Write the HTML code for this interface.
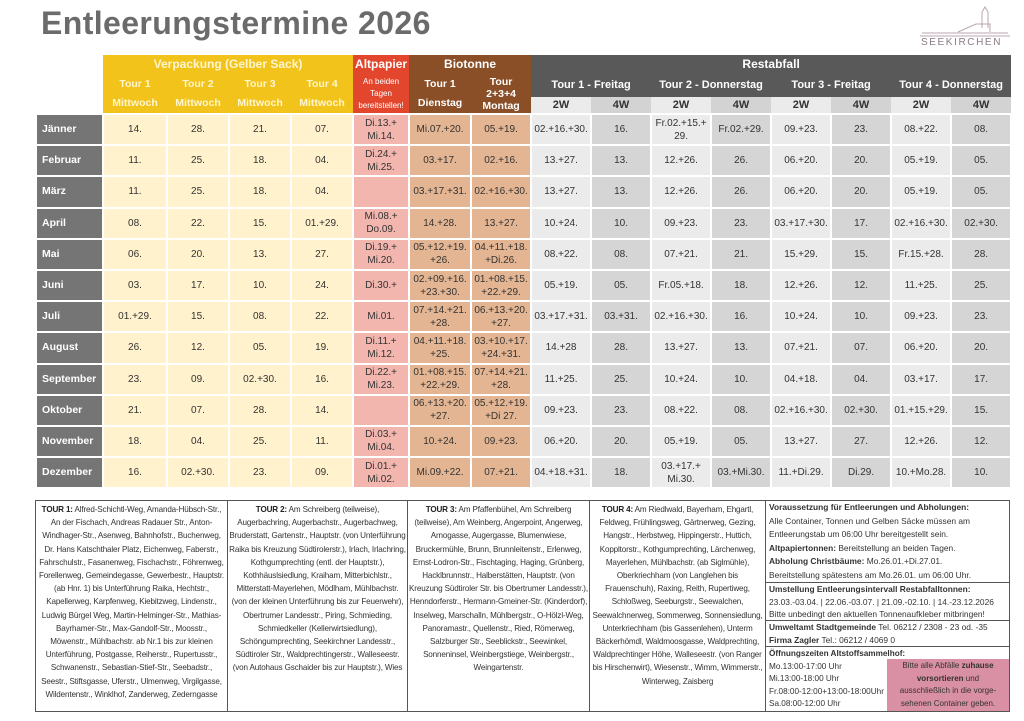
<!DOCTYPE html>
<html><head><meta charset="utf-8"><style>
*{margin:0;padding:0;box-sizing:border-box}
body{width:1024px;height:721px;background:#fff;font-family:"Liberation Sans",sans-serif;position:relative;overflow:hidden}
.title{position:absolute;left:41px;top:5px;font-size:32px;font-weight:bold;color:#6b6b6b;letter-spacing:0.4px}
table.m{position:absolute;left:35px;top:55px;border-collapse:collapse;table-layout:fixed;width:975px}
table.m td{text-align:center;vertical-align:middle;font-size:10px;color:#333;line-height:13px;white-space:nowrap;overflow:hidden}
table.m tr.h td{font-weight:bold;color:#fff}
table.m tr.h td.y{background:#f2c31a;color:#fff6cf}
table.m tr.h td.r{background:#e2472e;color:#fff}
table.m tr.h td.b{background:#8a4f27;color:#fff}
table.m tr.h td.g{background:#595959;color:#fff}
table.m tr.h td.w2{background:#ebebeb;color:#333;font-size:11px}
table.m tr.h td.w4{background:#d3d3d3;color:#333;font-size:11px}
tr.d td{border:2px solid #fff;height:31.2px}
table.m tr.d td.mo{background:#757575;color:#fff;font-weight:bold;text-align:left;padding-left:5px;font-size:10.5px}
tr.d td.t{background:#fff2cc}
tr.d td.a{background:#f2b6ae}
tr.d td.bi{background:#e4b592}
tr.d td.l{background:#ebebeb}
tr.d td.k{background:#d5d5d5}
.box{position:absolute;top:500px;border:1px solid #555;font-size:8.1px;line-height:13.2px;color:#333;text-align:center;padding:2px 1px;letter-spacing:-0.15px;overflow:hidden}
.box b{color:#222}
.rb{position:absolute;left:765px;width:245px;border:1px solid #555;font-size:8.4px;color:#333;padding:0 3px;white-space:nowrap;overflow:hidden}
</style></head><body>
<div class="title">Entleerungstermine 2026</div>
<svg style="position:absolute;left:918px;top:4px" width="96" height="46" viewBox="0 0 96 46">
<g fill="none" stroke="#b9a4b1" stroke-width="1">
<path d="M40 28 L58 20 L72 20 L72 28"/><path d="M64 24 L64 8 L67 3 L70 8 L70 24"/><path d="M4 29 L90 29"/><path d="M2 32 L92 32"/></g>
<text x="3" y="41" font-family="Liberation Sans" font-size="10" fill="#8a7a86" letter-spacing="1.6">SEEKIRCHEN</text>
</svg>
<table class="m">
<colgroup><col style="width:67px"><col style="width:64px"><col style="width:62px"><col style="width:62px"><col style="width:62px"><col style="width:56px"><col style="width:62px"><col style="width:60px"><col style="width:60px"><col style="width:60px"><col style="width:60px"><col style="width:60px"><col style="width:60px"><col style="width:60px"><col style="width:60px"><col style="width:60px"></colgroup>
<tr class="h" style="height:19px"><td rowspan="3"></td><td colspan="4" class="y" style="font-size:12px">Verpackung (Gelber Sack)</td><td class="r" style="font-size:12px">Altpapier</td><td colspan="2" class="b" style="font-size:12px">Biotonne</td><td colspan="8" class="g" style="font-size:12px">Restabfall</td></tr>
<tr class="h" style="height:23px"><td rowspan="2" class="y" style="font-size:10.5px;line-height:19px">Tour 1<br>Mittwoch</td><td rowspan="2" class="y" style="font-size:10.5px;line-height:19px">Tour 2<br>Mittwoch</td><td rowspan="2" class="y" style="font-size:10.5px;line-height:19px">Tour 3<br>Mittwoch</td><td rowspan="2" class="y" style="font-size:10.5px;line-height:19px">Tour 4<br>Mittwoch</td><td rowspan="2" class="r" style="font-weight:normal;font-size:8px;line-height:12px">An beiden<br>Tagen<br>bereitstellen!</td><td rowspan="2" class="b" style="font-size:10.5px;line-height:19px">Tour 1<br>Dienstag</td><td rowspan="2" class="b" style="font-size:10.5px;line-height:12px">Tour<br>2+3+4<br>Montag</td><td colspan="2" class="g" style="font-size:11px">Tour 1 - Freitag</td><td colspan="2" class="g" style="font-size:11px">Tour 2 - Donnerstag</td><td colspan="2" class="g" style="font-size:11px">Tour 3 - Freitag</td><td colspan="2" class="g" style="font-size:11px">Tour 4 - Donnerstag</td></tr>
<tr class="h" style="height:17px"><td class="w2">2W</td><td class="w4">4W</td><td class="w2">2W</td><td class="w4">4W</td><td class="w2">2W</td><td class="w4">4W</td><td class="w2">2W</td><td class="w4">4W</td></tr>
<tr class="d"><td class="mo">Jänner</td><td class="t">14.</td><td class="t">28.</td><td class="t">21.</td><td class="t">07.</td><td class="a">Di.13.+<br>Mi.14.</td><td class="bi">Mi.07.+20.</td><td class="bi">05.+19.</td><td class="l">02.+16.+30.</td><td class="k">16.</td><td class="l">Fr.02.+15.+<br>29.</td><td class="k">Fr.02.+29.</td><td class="l">09.+23.</td><td class="k">23.</td><td class="l">08.+22.</td><td class="k">08.</td></tr>
<tr class="d"><td class="mo">Februar</td><td class="t">11.</td><td class="t">25.</td><td class="t">18.</td><td class="t">04.</td><td class="a">Di.24.+<br>Mi.25.</td><td class="bi">03.+17.</td><td class="bi">02.+16.</td><td class="l">13.+27.</td><td class="k">13.</td><td class="l">12.+26.</td><td class="k">26.</td><td class="l">06.+20.</td><td class="k">20.</td><td class="l">05.+19.</td><td class="k">05.</td></tr>
<tr class="d"><td class="mo">März</td><td class="t">11.</td><td class="t">25.</td><td class="t">18.</td><td class="t">04.</td><td class="a"></td><td class="bi">03.+17.+31.</td><td class="bi">02.+16.+30.</td><td class="l">13.+27.</td><td class="k">13.</td><td class="l">12.+26.</td><td class="k">26.</td><td class="l">06.+20.</td><td class="k">20.</td><td class="l">05.+19.</td><td class="k">05.</td></tr>
<tr class="d"><td class="mo">April</td><td class="t">08.</td><td class="t">22.</td><td class="t">15.</td><td class="t">01.+29.</td><td class="a">Mi.08.+<br>Do.09.</td><td class="bi">14.+28.</td><td class="bi">13.+27.</td><td class="l">10.+24.</td><td class="k">10.</td><td class="l">09.+23.</td><td class="k">23.</td><td class="l">03.+17.+30.</td><td class="k">17.</td><td class="l">02.+16.+30.</td><td class="k">02.+30.</td></tr>
<tr class="d"><td class="mo">Mai</td><td class="t">06.</td><td class="t">20.</td><td class="t">13.</td><td class="t">27.</td><td class="a">Di.19.+<br>Mi.20.</td><td class="bi">05.+12.+19.<br>+26.</td><td class="bi">04.+11.+18.<br>+Di.26.</td><td class="l">08.+22.</td><td class="k">08.</td><td class="l">07.+21.</td><td class="k">21.</td><td class="l">15.+29.</td><td class="k">15.</td><td class="l">Fr.15.+28.</td><td class="k">28.</td></tr>
<tr class="d"><td class="mo">Juni</td><td class="t">03.</td><td class="t">17.</td><td class="t">10.</td><td class="t">24.</td><td class="a">Di.30.+</td><td class="bi">02.+09.+16.<br>+23.+30.</td><td class="bi">01.+08.+15.<br>+22.+29.</td><td class="l">05.+19.</td><td class="k">05.</td><td class="l">Fr.05.+18.</td><td class="k">18.</td><td class="l">12.+26.</td><td class="k">12.</td><td class="l">11.+25.</td><td class="k">25.</td></tr>
<tr class="d"><td class="mo">Juli</td><td class="t">01.+29.</td><td class="t">15.</td><td class="t">08.</td><td class="t">22.</td><td class="a">Mi.01.</td><td class="bi">07.+14.+21.<br>+28.</td><td class="bi">06.+13.+20.<br>+27.</td><td class="l">03.+17.+31.</td><td class="k">03.+31.</td><td class="l">02.+16.+30.</td><td class="k">16.</td><td class="l">10.+24.</td><td class="k">10.</td><td class="l">09.+23.</td><td class="k">23.</td></tr>
<tr class="d"><td class="mo">August</td><td class="t">26.</td><td class="t">12.</td><td class="t">05.</td><td class="t">19.</td><td class="a">Di.11.+<br>Mi.12.</td><td class="bi">04.+11.+18.<br>+25.</td><td class="bi">03.+10.+17.<br>+24.+31.</td><td class="l">14.+28</td><td class="k">28.</td><td class="l">13.+27.</td><td class="k">13.</td><td class="l">07.+21.</td><td class="k">07.</td><td class="l">06.+20.</td><td class="k">20.</td></tr>
<tr class="d"><td class="mo">September</td><td class="t">23.</td><td class="t">09.</td><td class="t">02.+30.</td><td class="t">16.</td><td class="a">Di.22.+<br>Mi.23.</td><td class="bi">01.+08.+15.<br>+22.+29.</td><td class="bi">07.+14.+21.<br>+28.</td><td class="l">11.+25.</td><td class="k">25.</td><td class="l">10.+24.</td><td class="k">10.</td><td class="l">04.+18.</td><td class="k">04.</td><td class="l">03.+17.</td><td class="k">17.</td></tr>
<tr class="d"><td class="mo">Oktober</td><td class="t">21.</td><td class="t">07.</td><td class="t">28.</td><td class="t">14.</td><td class="a"></td><td class="bi">06.+13.+20.<br>+27.</td><td class="bi">05.+12.+19.<br>+Di 27.</td><td class="l">09.+23.</td><td class="k">23.</td><td class="l">08.+22.</td><td class="k">08.</td><td class="l">02.+16.+30.</td><td class="k">02.+30.</td><td class="l">01.+15.+29.</td><td class="k">15.</td></tr>
<tr class="d"><td class="mo">November</td><td class="t">18.</td><td class="t">04.</td><td class="t">25.</td><td class="t">11.</td><td class="a">Di.03.+<br>Mi.04.</td><td class="bi">10.+24.</td><td class="bi">09.+23.</td><td class="l">06.+20.</td><td class="k">20.</td><td class="l">05.+19.</td><td class="k">05.</td><td class="l">13.+27.</td><td class="k">27.</td><td class="l">12.+26.</td><td class="k">12.</td></tr>
<tr class="d"><td class="mo">Dezember</td><td class="t">16.</td><td class="t">02.+30.</td><td class="t">23.</td><td class="t">09.</td><td class="a">Di.01.+<br>Mi.02.</td><td class="bi">Mi.09.+22.</td><td class="bi">07.+21.</td><td class="l">04.+18.+31.</td><td class="k">18.</td><td class="l">03.+17.+<br>Mi.30.</td><td class="k">03.+Mi.30.</td><td class="l">11.+Di.29.</td><td class="k">Di.29.</td><td class="l">10.+Mo.28.</td><td class="k">10.</td></tr>
</table>

<div class="box" style="left:35px;width:193px;height:212px"><b>TOUR 1:</b> Alfred-Schichtl-Weg, Amanda-Hübsch-Str., An der Fischach, Andreas Radauer Str., Anton-Windhager-Str., Asenweg, Bahnhofstr., Buchenweg, Dr. Hans Katschthaler Platz, Eichenweg, Faberstr., Fahrschulstr., Fasanenweg, Fischachstr., Föhrenweg, Forellenweg, Gemeindegasse, Gewerbestr., Hauptstr. (ab Hnr. 1) bis Unterführung Raika, Hechtstr., Kapellerweg, Karpfenweg, Kiebitzweg, Lindenstr., Ludwig Bürgel Weg, Martin-Helminger-Str., Mathias-Bayrhamer-Str., Max-Gandolf-Str., Moosstr., Möwenstr., Mühlbachstr. ab Nr.1 bis zur kleinen Unterführung, Postgasse, Reiherstr., Rupertusstr., Schwanenstr., Sebastian-Stief-Str., Seebadstr., Seestr., Stiftsgasse, Uferstr., Ulmenweg, Virgilgasse, Wildentenstr., Winklhof, Zanderweg, Zederngasse</div>
<div class="box" style="left:227px;width:181px;height:212px"><b>TOUR 2:</b> Am Schreiberg (teilweise), Augerbachring, Augerbachstr., Augerbachweg, Bruderstatt, Gartenstr., Hauptstr. (von Unterführung Raika bis Kreuzung Südtirolerstr.), Irlach, Irlachring, Kothgumprechting (entl. der Hauptstr.), Kothhäuslsiedlung, Kraiham, Mitterbichlstr., Mitterstatt-Mayerlehen, Mödlham, Mühlbachstr. (von der kleinen Unterführung bis zur Feuerwehr), Obertrumer Landesstr., Piring, Schmieding, Schmiedkeller (Kellerwirtsiedlung), Schöngumprechting, Seekirchner Landesstr., Südtiroler Str., Waldprechtingerstr., Walleseestr. (von Autohaus Gschaider bis zur Hauptstr.), Wies</div>
<div class="box" style="left:407px;width:183px;height:212px"><b>TOUR 3:</b> Am Pfaffenbühel, Am Schreiberg (teilweise), Am Weinberg, Angerpoint, Angerweg, Arnogasse, Augergasse, Blumenwiese, Bruckermühle, Brunn, Brunnleitenstr., Erlenweg, Ernst-Lodron-Str., Fischtaging, Haging, Grünberg, Hacklbrunnstr., Halberstätten, Hauptstr. (von Kreuzung Südtiroler Str. bis Obertrumer Landesstr.), Henndorferstr., Hermann-Gmeiner-Str. (Kinderdorf), Inselweg, Marschalln, Mühlbergstr., O-Hölzl-Weg, Panoramastr., Quellenstr., Ried, Römerweg, Salzburger Str., Seeblickstr., Seewinkel, Sonneninsel, Weinbergstiege, Weinbergstr., Weingartenstr.</div>
<div class="box" style="left:589px;width:177px;height:212px"><b>TOUR 4:</b> Am Riedlwald, Bayerham, Ehgartl, Feldweg, Frühlingsweg, Gärtnerweg, Gezing, Hangstr., Herbstweg, Hippingerstr., Huttich, Koppltorstr., Kothgumprechting, Lärchenweg, Mayerlehen, Mühlbachstr. (ab Siglmühle), Oberkriechham (von Langlehen bis Frauenschuh), Raxing, Reith, Rupertiweg, Schloßweg, Seeburgstr., Seewalchen, Seewalchnerweg, Sommerweg, Sonnensiedlung, Unterkriechham (bis Gassenlehen), Unterm Bäckerhömdl, Waldmoosgasse, Waldprechting, Waldprechtinger Höhe, Walleseestr. (von Ranger bis Hirschenwirt), Wiesenstr., Wimm, Wimmerstr., Winterweg, Zaisberg</div>
<div class="rb" style="top:500px;height:83px;line-height:13.5px"><b>Voraussetzung für Entleerungen und Abholungen:</b><br>Alle Container, Tonnen und Gelben Säcke müssen am<br>Entleerungstab um 06:00 Uhr bereitgestellt sein.<br><b>Altpapiertonnen:</b> Bereitstellung an beiden Tagen.<br><b>Abholung Christbäume:</b> Mo.26.01.+Di.27.01.<br>Bereitstellung spätestens am Mo.26.01. um 06:00 Uhr.</div>
<div class="rb" style="top:582px;height:39px;line-height:12.6px"><b>Umstellung Entleerungsintervall Restabfalltonnen:</b><br>23.03.-03.04. | 22.06.-03.07. | 21.09.-02.10. | 14.-23.12.2026<br>Bitte unbedingt den aktuellen Tonnenaufkleber mitbringen!</div>
<div class="rb" style="top:620px;height:27px;line-height:12.8px"><b>Umweltamt Stadtgemeinde</b> Tel. 06212 / 2308 - 23 od. -35<br><b>Firma Zagler</b> Tel.: 06212 / 4069 0</div>
<div class="rb" style="top:646px;height:66px;line-height:12.6px;padding-top:1px;font-size:8.2px"><b>Öffnungszeiten Altstoffsammelhof:</b><br>Mo.13:00-17:00 Uhr<br>Mi.13:00-18:00 Uhr<br>Fr.08:00-12:00+13:00-18:00Uhr<br>Sa.08:00-12:00 Uhr</div>
<div style="position:absolute;left:887px;top:659px;width:122px;height:52px;background:#d98fa4;font-size:8px;line-height:12.7px;text-align:center;color:#333;white-space:nowrap;padding-top:1px">Bitte alle Abfälle <b>zuhause</b><br><b>vorsortieren</b> und<br>ausschließlich in die vorge-<br>sehenen Container geben.</div>
</body></html>
